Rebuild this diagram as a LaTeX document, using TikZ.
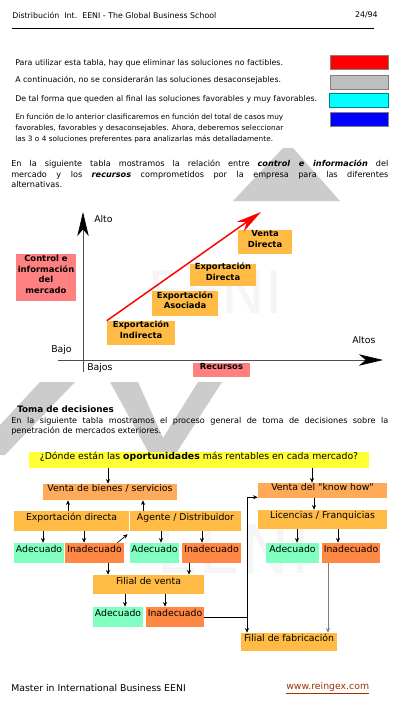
\documentclass[tikz,border=0pt]{standalone}
\usepackage{fontspec}
\setmainfont{DejaVu Sans}
\usetikzlibrary{arrows.meta,fit,positioning}

\definecolor{boxorange}{HTML}{FFBB44}
\definecolor{boxpeach}{HTML}{FFAA58}
\definecolor{boxpink}{HTML}{FF8080}
\definecolor{boxgreen}{HTML}{80FFC0}
\definecolor{boxred}{HTML}{FF8844}
\definecolor{boxyellow}{HTML}{FFFF33}
\definecolor{boxcyan}{HTML}{00FFFF}
\definecolor{wmark}{HTML}{CCCCCC}
\definecolor{linkbrown}{HTML}{993300}

\newcommand{\headfont}{\fontsize{5.9}{7}\selectfont}
\newcommand{\legfont}{\fontsize{5.9}{8.25}\selectfont}
\newcommand{\legparfont}{\fontsize{5.5}{8.25}\selectfont}
\newcommand{\parafont}{\fontsize{6.1}{7.9}\selectfont}
\newcommand{\chartfont}{\fontsize{6.3}{8}\selectfont\bfseries}
\newcommand{\flowfont}{\fontsize{7}{8}\selectfont}
\newcommand{\footfont}{\fontsize{7}{8}\selectfont}
\newcommand{\fullline}[2]{\makebox[#1][s]{#2}}

\begin{document}
\begin{tikzpicture}
  [x=0.75pt,y=-0.75pt,every node/.style={inner sep=0pt},
   swatch/.style={draw=gray,line width=0.5pt},
   chartbox/.style={fill=boxorange,font=\chartfont,align=center},
   axislbl/.style={font=\footfont},
   axis/.style={draw=black!70,line width=0.5pt,
     -{Stealth[length=18pt,width=8.5pt,inset=5pt,color=black]}},
   trend/.style={draw=red,line width=1.1pt,
     -{Stealth[length=19pt,width=9pt,inset=6pt]}},
   fbox/.style={font=\flowfont},
   flow/.style={draw=black,line width=0.5pt,-{Stealth[length=3.5pt,width=3pt]}},
   trunk/.style={draw=black,line width=0.75pt}]

  \useasboundingbox[fill=white] (0,0) rectangle (405,711);

  % watermark
  \fill[wmark] (233,201) -- (283,148) -- (293,148) -- (340,201) -- cycle;
  \fill[wmark] (40,382) -- (75,382) -- (5,455) -- (0,455) -- (0,425) -- cycle;
  \fill[wmark] (110,382) -- (138,382) -- (163,438) -- (198,382) -- (222,382)
    -- (175,455) -- (150,455) -- cycle;
  \node[font=\fontsize{44}{44}\selectfont,text=gray!8] (wm1) at (215,292) {EENI};
  \node[font=\fontsize{50}{50}\selectfont,text=gray!8] (wm2) at (233,549) {EENI};

  % header
  \node[anchor=west,font=\headfont] (title) at (12,15)
    {Distribución\ \ Int.\ \ EENI - The Global Business School};
  \node[anchor=east,font=\headfont] (page) at (378,15) {24/94};
  \draw[line width=0.4pt] (12,28) -- (374,28);

  % legend
  \node[anchor=west,font=\legfont] (leg1) at (15,63)
    {Para utilizar esta tabla, hay que eliminar las soluciones no factibles.};
  \node[anchor=west,font=\legfont] (leg2) at (15,80)
    {A continuación, no se considerarán las soluciones desaconsejables.};
  \node[anchor=west,font=\legfont] (leg3) at (15,99)
    {De tal forma que queden al final las soluciones favorables y muy favorables.};
  \node[anchor=north west,font=\legparfont,align=left] (leg4) at (15,113)
    {\fullline{201pt}{En función de lo anterior clasificaremos en función del total de casos muy}\\
     \fullline{201pt}{favorables, favorables y desaconsejables. Ahora, deberemos seleccionar}\\
     las 3 o 4 soluciones preferentes para analizarlas más detalladamente.};
  \node[swatch,fill=red,fit={(330,55) (388,69)}] (sw1) {};
  \node[swatch,fill=black!25,fit={(330,75) (388,89)}] (sw2) {};
  \node[swatch,draw=teal,fill=boxcyan,fit={(329,93) (388,107)}] (sw3) {};
  \node[swatch,fill=blue,fit={(330,112) (388,126)}] (sw4) {};

  \node[anchor=north west,font=\parafont,align=left] (intro) at (11,160)
    {\fullline{282.75pt}{En la siguiente tabla mostramos la relación entre \textbf{\textit{control e información}} del}\\
     \fullline{282.75pt}{mercado y los \textbf{\textit{recursos}} comprometidos por la empresa para las diferentes}\\
     alternativas.};

  % chart
  \coordinate (ybot) at (83,372);
  \coordinate (ytop) at (83,212);
  \coordinate (xleft) at (58,360);
  \coordinate (xright) at (383,360);
  \draw[axis] (ybot) -- (ytop);
  \draw[axis] (xleft) -- (xright);
  \node[axislbl,anchor=west] (alto) at (94,219) {Alto};
  \node[axislbl,anchor=west] (altos) at (352,340) {Altos};
  \node[axislbl,anchor=west] (bajo) at (51,350) {Bajo};
  \node[axislbl,anchor=west] (bajos) at (87,368) {Bajos};

  \node[chartbox,fill=boxpink,fit={(16,254) (76,301)}] (ctrl) {Control e\\información\\del\\mercado};
  \node[chartbox,fill=boxpink,fit={(193,363) (250,377)}] (recursos) {Recursos};
  \node[chartbox,fit={(107,321) (175,345)}] (exind) {Exportación\\Indirecta};
  \node[chartbox,fit={(152,291) (218,316)}] (exaso) {Exportación\\Asociada};
  \node[chartbox,fit={(190,264) (256,286)}] (exdir) {Exportación\\Directa};
  \node[chartbox,fit={(238,230) (292,254)}] (vdir) {Venta\\Directa};

  \coordinate (tip) at (261,212);
  \draw[trend] (exind.north west) -- (tip);

  % decisiones
  \node[anchor=west,font=\fontsize{6.6}{8}\selectfont\bfseries] (toma) at (17,409) {Toma de decisiones};
  \node[anchor=north west,font=\parafont,align=left] (proc) at (11,417)
    {\fullline{282.75pt}{En la siguiente tabla mostramos el proceso general de toma de decisiones sobre la}\\
     penetración de mercados exteriores.};

  \node[fbox,fill=boxyellow,fit={(29,452) (369,468)}] (ask)
    {¿Dónde están las \textbf{oportunidades} más rentables en cada mercado?};
  \node[fbox,fill=boxpeach,fit={(43,484) (177,500)}] (vbs) {Venta de bienes / servicios};
  \node[fbox,fill=boxpeach,fit={(258,483) (387,498)}] (kh) {Venta del \textquotedbl know how\textquotedbl};
  \node[fbox,fill=boxorange,fit={(14,511) (129,531)}] (expd) {Exportación directa};
  \node[fbox,fill=boxorange,fit={(130,511) (241,531)}] (agen) {Agente / Distribuidor};
  \node[fbox,fill=boxgreen,fit={(14,543) (64,563)}] (ad1) {Adecuado};
  \node[fbox,fill=boxred,fit={(65,543) (124,563)}] (in1) {Inadecuado};
  \node[fbox,fill=boxgreen,fit={(130,543) (179,563)}] (ad2) {Adecuado};
  \node[fbox,fill=boxred,fit={(182,543) (241,563)}] (in2) {Inadecuado};
  \node[fbox,fill=boxorange,fit={(93,575) (204,594)}] (fv) {Filial de venta};
  \node[fbox,fill=boxgreen,fit={(93,607) (143,627)}] (ad3) {Adecuado};
  \node[fbox,fill=boxred,fit={(146,607) (204,627)}] (in3) {Inadecuado};
  \node[fbox,fill=boxorange,fit={(258,510) (387,529)}] (lic) {Licencias / Franquicias};
  \node[fbox,fill=boxgreen,fit={(266,543) (319,563)}] (ad4) {Adecuado};
  \node[fbox,fill=boxred,fit={(322,543) (380,563)}] (in4) {Inadecuado};
  \node[fbox,fill=boxorange,fit={(241,633) (337,651)}] (ff) {Filial de fabricación};

  \foreach \from/\to/\xx in {ask/vbs/108,ask/kh/312,expd/ad1/43,expd/in1/84,
      agen/ad2/161,agen/in2/202,in1/fv/108,in2/fv/189,fv/ad3/125,fv/in3/165,
      kh/lic/314,lic/ad4/297,lic/in4/338}
    \draw[flow] (\from.south-|\xx,0) -- (\to.north-|\xx,0);
  \foreach \from/\to/\xx in {expd/vbs/68,agen/vbs/143}
    \draw[flow] (\from.north-|\xx,0) -- (\to.south-|\xx,0);
  \draw[flow] ([xshift=-5.25pt]in1.north east) -- ([shift={(-1.5pt,-2.25pt)}]agen.south west);
  \draw[flow,draw=gray] (in4.south-|328,0) -- (ff.north-|328,0);

  \coordinate (jn) at (247,617);
  \draw[trunk] (in3.east) -- (jn);
  \draw[trunk,-{Stealth[length=3.5pt,width=3pt]}] (jn) |- ([yshift=0.75pt]kh.south west);
  \draw[trunk,-{Stealth[length=3.5pt,width=3pt]}] (jn) -- (jn|-ff.north);

  % footer
  \node[anchor=west,font=\footfont] (master) at (11,688) {Master in International Business EENI};
  \node[anchor=west,font=\footfont,text=linkbrown] (web) at (286,688) {\underline{www.reingex.com}};
\end{tikzpicture}
\end{document}
